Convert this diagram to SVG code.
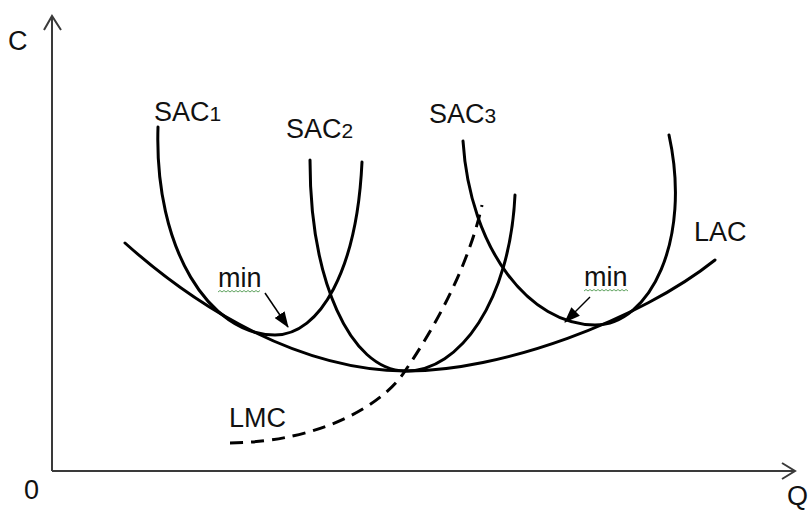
<svg xmlns="http://www.w3.org/2000/svg" width="809" height="511" viewBox="0 0 809 511">
<style>
  text { font-family: "Liberation Sans", Arial, sans-serif; fill: #111; }
  .lbl { font-size: 27px; }
  .sub { font-size: 21px; }
  .curve { fill: none; stroke: #000; stroke-width: 3; stroke-linecap: round; }
  .axis { fill: none; stroke: #3a3a3a; stroke-width: 2; }
  .dash { fill: none; stroke: #000; stroke-width: 3; stroke-dasharray: 13 8; }
  .ptr { stroke: #000; stroke-width: 1.5; fill: none; marker-end: url(#tri2); }
  .wave { fill: none; stroke: #5fa35f; stroke-width: 1; }
</style>
<defs>
  <marker id="tri2" viewBox="0 0 16 12" refX="15" refY="6" markerWidth="16" markerHeight="12" markerUnits="userSpaceOnUse" orient="auto">
    <path d="M0,0 L16,6 L0,12 z" fill="#000"/>
  </marker>
</defs>
<rect width="809" height="511" fill="#fff"/>

<g id="axes">
  <path class="axis" d="M52,471 V16 M44,30 L52,16 L61,30"/>
  <path class="axis" d="M52,471 H795 M782,463 L795,471 L782,479"/>
  <text class="lbl" x="8" y="50">C</text>
  <text class="lbl" x="24" y="499">0</text>
  <text class="lbl" x="787" y="505">Q</text>
</g>

<g id="connectors">
  <path id="LAC-curve" class="curve" d="M125,243 C200,310 300,370 405,371 C500,372 640,320 715,260"/>
  <path id="SAC1-curve" class="curve" d="M158,127 C154,250 210,335 275,335 C320,335 357,270 362,162"/>
  <path id="SAC2-curve" class="curve" d="M310,160 C310,280 350,370 405,371 C460,372 510,300 515,195"/>
  <path id="SAC3-curve" class="curve" d="M463,141 C470,250 530,325 595,325 C650,325 692,240 669,135"/>
  <path id="LMC-curve" class="dash" d="M230,443 C320,442 383,405 405,371 C440,320 470,260 482,205"/>
  <path class="ptr" d="M265,293 L288,327"/>
  <path class="ptr" d="M590,297 L565,322"/>
</g>

<g id="SAC1">
  <text class="lbl" x="154" y="121">SAC<tspan class="sub">1</tspan></text>
</g>
<g id="SAC2">
  <text class="lbl" x="286" y="138">SAC<tspan class="sub">2</tspan></text>
</g>
<g id="SAC3">
  <text class="lbl" x="429" y="123">SAC<tspan class="sub">3</tspan></text>
</g>
<g id="LAC">
  <text class="lbl" x="694" y="241">LAC</text>
</g>
<g id="LMC">
  <text class="lbl" x="229" y="427">LMC</text>
</g>
<g id="min-left">
  <text class="lbl" x="218" y="287">min</text>
  <path class="wave" d="M218,292 l2,-1.5 l2,1.5 l2,-1.5 l2,1.5 l2,-1.5 l2,1.5 l2,-1.5 l2,1.5 l2,-1.5 l2,1.5 l2,-1.5 l2,1.5 l2,-1.5 l2,1.5 l2,-1.5 l2,1.5 l2,-1.5 l2,1.5 l2,-1.5 l2,1.5 l2,-1.5"/>
</g>
<g id="min-right">
  <text class="lbl" x="584" y="286">min</text>
  <path class="wave" d="M584,291 l2,-1.5 l2,1.5 l2,-1.5 l2,1.5 l2,-1.5 l2,1.5 l2,-1.5 l2,1.5 l2,-1.5 l2,1.5 l2,-1.5 l2,1.5 l2,-1.5 l2,1.5 l2,-1.5 l2,1.5 l2,-1.5 l2,1.5 l2,-1.5 l2,1.5 l2,-1.5 l2,1.5"/>
</g>
</svg>
